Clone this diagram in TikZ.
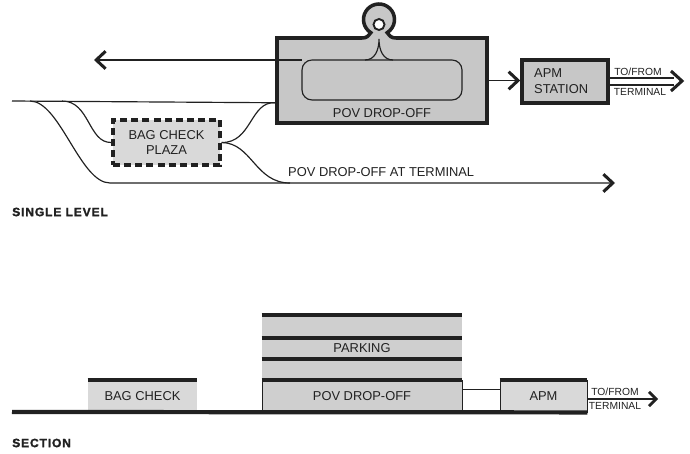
\documentclass[tikz,border=0pt]{standalone}
\usepackage{fontspec}
\setmainfont{Liberation Sans}
\newfontfamily\headfont[LetterSpace=7, BoldFeatures={FakeBold=1.6}]{Liberation Sans}
\usetikzlibrary{positioning}
\usetikzlibrary{calc}
\usetikzlibrary{arrows.meta}

\definecolor{ink}{gray}{0.13}
\definecolor{boxgray}{gray}{0.78}
\definecolor{plazagray}{gray}{0.85}
\definecolor{floorgray}{gray}{0.81}

\tikzset{
  road/.style={draw=ink, line width=1pt},
  tip/.style={-{Straight Barb[length=8pt,width=15pt,line width=2.6pt]}},
  smalltip/.style={-{Straight Barb[length=6pt,width=12pt,line width=2.4pt]}},
  chev/.style={draw=ink, line width=2.6pt, miter limit=4},
  bigbox/.style={draw=ink, line width=3pt, fill=boxgray, inner sep=0pt},
  lbl/.style={font=\fontsize{11}{13}\selectfont, text=ink, inner sep=0pt},
  tiny/.style={font=\fontsize{8.8}{10}\selectfont, text=ink, inner sep=0pt},
  head/.style={font=\headfont\bfseries\fontsize{10.3}{12}\selectfont, text=ink, anchor=west, inner sep=0pt},
  floor/.style={draw=ink, line width=0.7pt, fill=floorgray, inner sep=0pt, minimum height=0.96cm},
  slab/.style={draw=ink, line width=3.3pt},
}

\begin{document}
\begin{tikzpicture}[x=0.03cm, y=-0.03cm]
    \useasboundingbox (0,0) rectangle (690,454);

    % single level
    \node [bigbox, minimum width=6.3cm, minimum height=2.55cm] (pov) at (382,80.5) {};
    \coordinate (knot) at (379,19.5);
    \fill [boxgray] (362,42) -- (362,38) .. controls (367,38) and (368,36) .. ($(knot)+(122:15.5)$)
        arc [start angle=122, end angle=418, radius=15.5]
        .. controls (390,36) and (391,38) .. (396,38) -- (396,42) -- cycle;
    \draw [draw=ink, line width=3pt] (359,38) -- (362,38) .. controls (367,38) and (368,36) .. ($(knot)+(122:15.5)$)
        arc [start angle=122, end angle=418, radius=15.5]
        .. controls (390,36) and (391,38) .. (396,38) -- (399,38);
    \node [draw=ink, line width=1.6pt, fill=white, circle, minimum size=0.33cm, inner sep=0pt] (eye) at (379,24.5) {};
    \node [lbl, above=0.2cm of pov.south] (povtxt) {POV DROP-OFF};

    \draw [road, rounded corners=0.3cm] (302,60) rectangle (462,100);
    \coordinate (cusp) at (379,39);
    \draw [road] (365,60) .. controls (375,60) and (379,50) .. (cusp)
                 .. controls (379,50) and (383,60) .. (393,60);
    \coordinate (west) at (94,60);
    \draw [road, tip] (302,60) -- (west);

    \node [bigbox, minimum width=2.58cm, minimum height=1.29cm, text width=1.85cm, align=left,
           font=\fontsize{11}{13.5}\selectfont, text=ink] (apm) at (565,81.5) {APM\\STATION};
    \draw [road, tip] (pov.east) -- (pov.east -| apm.west);

    \coordinate (tf) at (682,81);
    \draw [road] ([yshift=3]apm.east) -- ++(64,0);
    \draw [road] ([yshift=-3]apm.east) -- ++(64,0);
    \draw [chev] ($(tf)+(-11,-10)$) -- (tf) -- ($(tf)+(-11,10)$);
    \node [tiny] (tf1) at (638,71.5) {TO/FROM};
    \node [tiny] (tf2) at (640,92) {TERMINAL};

    \node [draw=ink, line width=2.8pt, dash pattern=on 6pt off 3.5pt, fill=plazagray,
           minimum width=3.21cm, minimum height=1.35cm, align=center, inner sep=0pt,
           font=\fontsize{11}{13.5}\selectfont, text=ink] (plaza) at (166.5,142.5) {BAG CHECK\\PLAZA};

    \coordinate (gate) at ($(pov.south west)+(0,-22)$);
    \coordinate (term) at (615,183);
    \draw [road] (12,101) -- (gate);
    \draw [road, tip] (30,101) .. controls (60,101) and (80,183) .. (110,183) -- (term);
    \draw [road] (62,101) .. controls (90,101) and (88,143) .. (plaza.west);
    \draw [road] (plaza.east) .. controls (252,143) and (250,101) .. (gate);
    \draw [road] (plaza.east) .. controls (252,143) and (255,183) .. (290,183);
    \node [lbl, anchor=west] (termtxt) at (288,172) {POV DROP-OFF AT TERMINAL};

    \node [head] (single) at (12,212) {SINGLE LEVEL};

    % section
    \node [floor, draw=none, fill=plazagray, minimum width=3.27cm] (bag) at (142.5,396) {};
    \node [lbl] at (bag) {BAG CHECK};
    \draw [slab] (bag.north west) -- (bag.north east);

    \node [floor, draw=none, minimum width=6cm, minimum height=1.95cm] (park) at (362,347.5) {};
    \node [floor, minimum width=6cm] (pov2) at (362,396) {};
    \node [lbl] at (pov2) {POV DROP-OFF};
    \node [lbl] at (362,348.5) {PARKING};
    \foreach \y in {315,338,359} {
        \draw [slab] (park.west |- 0,\y) -- (park.east |- 0,\y);
    }
    \draw [slab] (pov2.north west) -- (pov2.north east);

    \node [floor, fill=plazagray, minimum width=2.61cm] (apm2) at (543.5,396) {};
    \node [lbl] at (apm2) {APM};
    \draw [slab] (apm2.north west) -- (apm2.north east);
    \draw [road, line width=0.7pt] (pov2.east |- 0,389) -- (apm2.west |- 0,389);

    \draw [line width=3.6pt, draw=ink] (12,412) -- (apm2.south east);
    \coordinate (tf3) at (658,399);
    \draw [road, smalltip] (apm2.east |- tf3) -- (tf3);
    \node [tiny] (tf4) at (615,391.5) {TO/FROM};
    \node [tiny] (tf5) at (615,406) {TERMINAL};

    \node [head] (sect) at (12,443) {SECTION};
\end{tikzpicture}
\end{document}
